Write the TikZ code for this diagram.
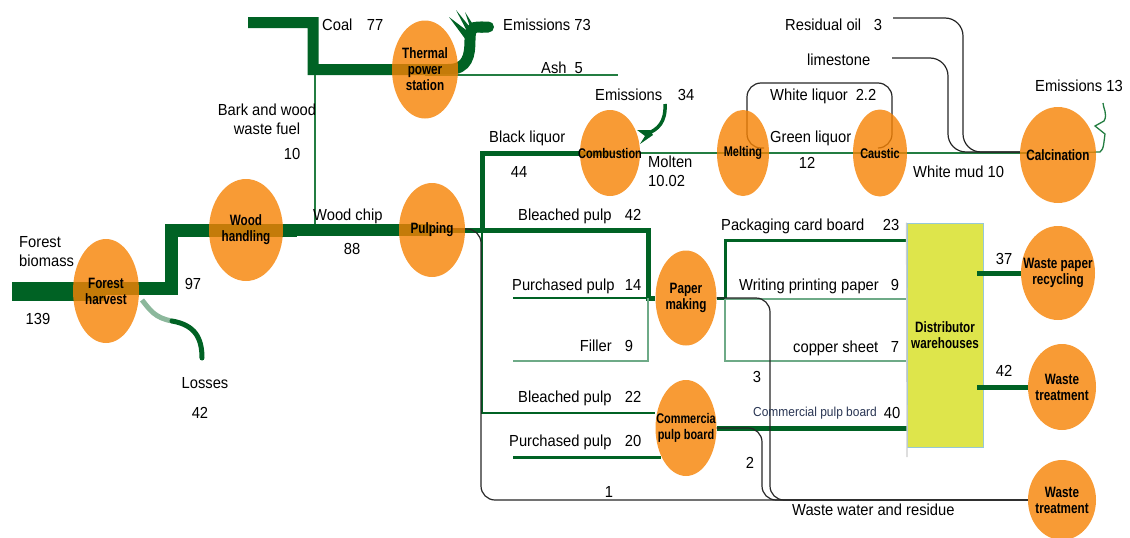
\documentclass[tikz,border=0pt]{standalone}
\usepackage{fontspec}
\setmainfont{Liberation Sans}[FakeStretch=0.92]
\newfontfamily\lblfont{Liberation Sans}[FakeStretch=0.78]
\usetikzlibrary{shapes.geometric, arrows.meta, backgrounds}
\definecolor{procfill}{RGB}{246,130,3}
\definecolor{flowgreen}{RGB}{0,98,36}
\definecolor{midgreen}{RGB}{35,125,65}
\definecolor{palegreen}{RGB}{110,170,135}
\definecolor{dwfill}{RGB}{222,229,75}
\definecolor{dwedge}{RGB}{150,200,215}
\definecolor{cpbtext}{RGB}{40,52,82}
\tikzset{
x=1pt, y=-1pt, % one unit is one pixel of the reference, y grows downwards
proc/.style={ellipse, fill=procfill, fill opacity=0.8, inner sep=0pt}, % the orange process ellipses
plbl/.style={font=\lblfont\bfseries\fontsize{15}{16}\selectfont, align=center, fill opacity=1, text opacity=1, inner sep=0pt}, % text inside a process
small plbl/.style={plbl, font=\lblfont\bfseries\fontsize{14}{16}\selectfont},
txt/.style={font=\fontsize{16}{19}\selectfont, inner sep=0pt, text height=11.5pt, text depth=0pt}, % one line labels
mtxt/.style={font=\fontsize{16}{19}\selectfont, inner sep=0pt, align=center}, % labels on two lines
flow/.style={draw=flowgreen, line cap=butt, line join=miter}, % sankey bands, width set per band
thin flow/.style={draw=midgreen, line width=1.6pt},
pale flow/.style={draw=palegreen, line width=1.6pt},
waste/.style={draw=black!85, line width=1.2pt, rounded corners=14pt}, % waste water and residue
}

\begin{document}
\begin{tikzpicture}
\useasboundingbox (0,0) rectangle (1130,538);

% processes
\node[proc, minimum width=66pt, minimum height=104pt, label={[plbl]center:{Forest\\harvest}}] (fh) at (106,291) {};
\node[proc, minimum width=74pt, minimum height=102pt, label={[plbl]center:{Wood\\handling}}] (wh) at (246,230) {};
\node[proc, minimum width=66pt, minimum height=94pt, label={[plbl]center:{Pulping}}] (pu) at (432,230) {};
\node[proc, minimum width=66pt, minimum height=98pt, label={[plbl]center:{Thermal\\power\\station}}] (tps) at (425,69.5) {};
\node[proc, minimum width=60pt, minimum height=86pt, label={[small plbl]center:{Combustion}}] (comb) at (610,153) {};
\node[proc, minimum width=52pt, minimum height=86pt, label={[small plbl]center:{Melting}}] (melt) at (743,153) {};
\node[proc, minimum width=54pt, minimum height=87pt, label={[small plbl]center:{Caustic}}] (caus) at (880,153) {};
\node[proc, minimum width=76pt, minimum height=96pt, label={[plbl]center:{Calcination}}] (calc) at (1058,155) {};
\node[proc, minimum width=61pt, minimum height=95pt, label={[plbl]center:{Paper\\making}}] (pm) at (686,298) {};
\node[proc, minimum width=61pt, minimum height=96pt, label={[small plbl]center:{Commercia\\pulp board}}] (cpb) at (686,428) {};
\node[draw=dwedge, line width=1pt, fill=dwfill, minimum width=76pt, minimum height=224pt, plbl] (dw) at (945,335) {Distributor\\warehouses};
\node[proc, minimum width=74pt, minimum height=94pt, label={[plbl]center:{Waste paper\\recycling}}] (wpr) at (1058,273) {};
\node[proc, minimum width=68pt, minimum height=86pt, label={[plbl]center:{Waste\\treatment}}] (wt1) at (1062,387) {};
\node[proc, minimum width=68pt, minimum height=80pt, label={[plbl]center:{Waste\\treatment}}] (wt2) at (1062,500) {};

\coordinate (fbin) at (12,291);
\coordinate (ashend) at (618,75);

\begin{scope}[on background layer]
  % biomass, coal and fuel
  \draw[flow, line width=19pt] (fbin) -- (fh.center);
  \draw[flow, line width=13pt] (fh.center |- 0,288) -| (171,230.5) -- (297,230.5);
  \draw[flow, line width=12pt] (297,230) -- (pu.center);
  \draw[flow, line width=11pt, -{Round Cap}] (248,22.5) -| (313,69.5) -- (tps.center) -- (448,69.5)
    .. controls (468,69.5) and (470,55) .. (470,40) .. controls (470,30) and (472,27) .. (478,27) -- (494,27);
  \fill[flowgreen] (466,40) -- (449,17) -- (470,33) -- cycle;
  \fill[flowgreen] (469,35) -- (456,10) -- (473,31) -- cycle;
  \fill[flowgreen] (472,33) -- (465,12) -- (477,31) -- cycle;
  \draw[thin flow] (tps.center |- ashend) -- (ashend);
  \draw[thin flow, line width=1.4pt] (315,75) -- (315,224);
  \draw[flow, draw=flowgreen!45, line width=5pt] (142,300) .. controls (150,310) and (155,318) .. (172,321);
  \draw[flow, line width=5pt, line cap=round] (172,321) .. controls (195,325) and (202,338) .. (202,358);

  % pulping products
  \draw[flow, line width=5pt] (pu.center) -- (648,230) |- (pm.west);
  \draw[flow, line width=5pt] (482,232.5) |- (comb.center);
  \draw[flow, line width=2.8pt] (482,232) |- (cpb.west |- 0,413);
  \draw[flow, line width=2pt] (513,298) -- (pm.west);
  \draw[pale flow] (513,361) -| (648,298);
  \draw[flow, line width=3pt] (513,457) -- (661,457);

  % chemical recovery
  \draw[thin flow] (comb.center) -- (melt.center) -- (caus.center) -- (caus.center -| calc.center);
  \draw[thin flow, line width=1.3pt] (caus.center -| calc.center) -- (1100,152) .. controls (1104,150) and (1104,140) .. (1105,134)
    -- (1095,126) -- (1104,121) .. controls (1108,114) and (1103,108) .. (1103,103);
  \draw[flow, line width=3.5pt] (665,104) .. controls (666,122) and (658,130) .. (646,134);
  \fill[flowgreen] (650,130) -- (637,130) -- (645,136) -- (640,144) -- (653,135) -- cycle;
  \draw[waste] (764,148) -| (747,83) -| (892,148) -- (878,148);
  \draw[waste, rounded corners=18pt] (893,18) -| (963,152) -- (calc.west |- 0,152);
  \draw[waste, rounded corners=18pt] (892,58) -| (948,152) -- (calc.west |- 0,152);

  % paper products to the warehouses
  \draw[flow, line width=3pt] (pm.east) -- (725,298) |- (dw.west |- 0,240);
  \draw[pale flow] (725,299) -- (dw.west |- 0,299);
  \draw[pale flow] (725,299) |- (dw.west |- 0,361);
  \draw[flow, line width=5pt] (cpb.east) -- (cpb.east -| dw.west);

  % waste water and residue
  \draw[waste] (450,229) -| (481,500) -- (wt2.west);
  \draw[waste] (pm.east) -| (770,500) -- (wt2.west);
  \draw[waste] (cpb.east) -| (762,500) -- (wt2.west);
\end{scope}

\draw[black!20, line width=1.2pt] (dw.north west) -- (907,457);
\draw[flow, line width=5pt] (977,273) -- (wpr);
\draw[flow, line width=5pt] (977,387) -- (wt1);

% labels
\node[txt, anchor=west] (coal) at (322,25) {Coal};
\node[txt] (coalv) at (375,25) {77};
\node[txt, anchor=west] (emtps) at (503,25) {Emissions 73};
\node[txt, anchor=west] (ash) at (541,68) {Ash~~5};
\node[mtxt] (bark) at (267,119) {Bark and wood\\waste fuel};
\node[txt] (barkv) at (292,154) {10};
\node[txt, anchor=west] (chip) at (313,215) {Wood chip};
\node[txt] (chipv) at (352,249) {88};
\node[mtxt, align=left, anchor=west] (fb) at (19,251.5) {Forest\\biomass};
\node[txt] (fbv) at (38,319) {139};
\node[txt] (fhv) at (193,284) {97};
\node[txt] (loss) at (205,383) {Losses};
\node[txt] (lossv) at (200,413) {42};
\node[txt, anchor=west] (bl) at (489,137) {Black liquor};
\node[txt] (blv) at (519,172) {44};
\node[txt, anchor=west] (emco) at (595,95) {Emissions};
\node[txt] (emcov) at (686,95) {34};
\node[mtxt, align=left, anchor=west] (molt) at (648,171.5) {Molten\\10.02};
\node[txt, anchor=west] (wl) at (770,95) {White liquor};
\node[txt] (wlv) at (866,95) {2.2};
\node[txt, anchor=west] (gl) at (770,137) {Green liquor};
\node[txt] (glv) at (807,163) {12};
\node[txt, anchor=west] (wm) at (913,172) {White mud 10};
\node[txt, anchor=west] (ro) at (785,25) {Residual oil};
\node[txt] (rov) at (878,25) {3};
\node[txt, anchor=west] (lime) at (807,60) {limestone};
\node[txt, anchor=west] (emca) at (1035,86) {Emissions 13};
\node[txt, anchor=west] (bp1) at (518,215) {Bleached pulp};
\node[txt] (bp1v) at (633,215) {42};
\node[txt, anchor=west] (pp1) at (512,285) {Purchased pulp};
\node[txt] (pp1v) at (633,285) {14};
\node[txt, anchor=east] (fil) at (612,346) {Filler};
\node[txt] (filv) at (629,346) {9};
\node[txt, anchor=west] (bp2) at (518,397) {Bleached pulp};
\node[txt] (bp2v) at (633,397) {22};
\node[txt, anchor=west] (pp2) at (509,441) {Purchased pulp};
\node[txt] (pp2v) at (633,441) {20};
\node[txt] (w1) at (609,492) {1};
\node[txt] (w3) at (757,377) {3};
\node[txt] (w2) at (750,463) {2};
\node[txt, anchor=west] (pcb) at (721,225) {Packaging card board};
\node[txt] (pcbv) at (891,225) {23};
\node[txt, anchor=west] (wpp) at (739,285) {Writing printing paper};
\node[txt] (wppv) at (895,285) {9};
\node[txt, anchor=west] (cs) at (793,347) {copper sheet};
\node[txt] (csv) at (895,347) {7};
\node[txt, anchor=west, font=\fontsize{13}{15}\selectfont, text=cpbtext, text height=9.5pt] (cpbl) at (753,412) {Commercial pulp board};
\node[txt] (cpbv) at (892,413) {40};
\node[txt] (wprv) at (1004,259) {37};
\node[txt] (wt1v) at (1004,371) {42};
\node[txt, anchor=west] (ww) at (792,510) {Waste water and residue};
\end{tikzpicture}
\end{document}
